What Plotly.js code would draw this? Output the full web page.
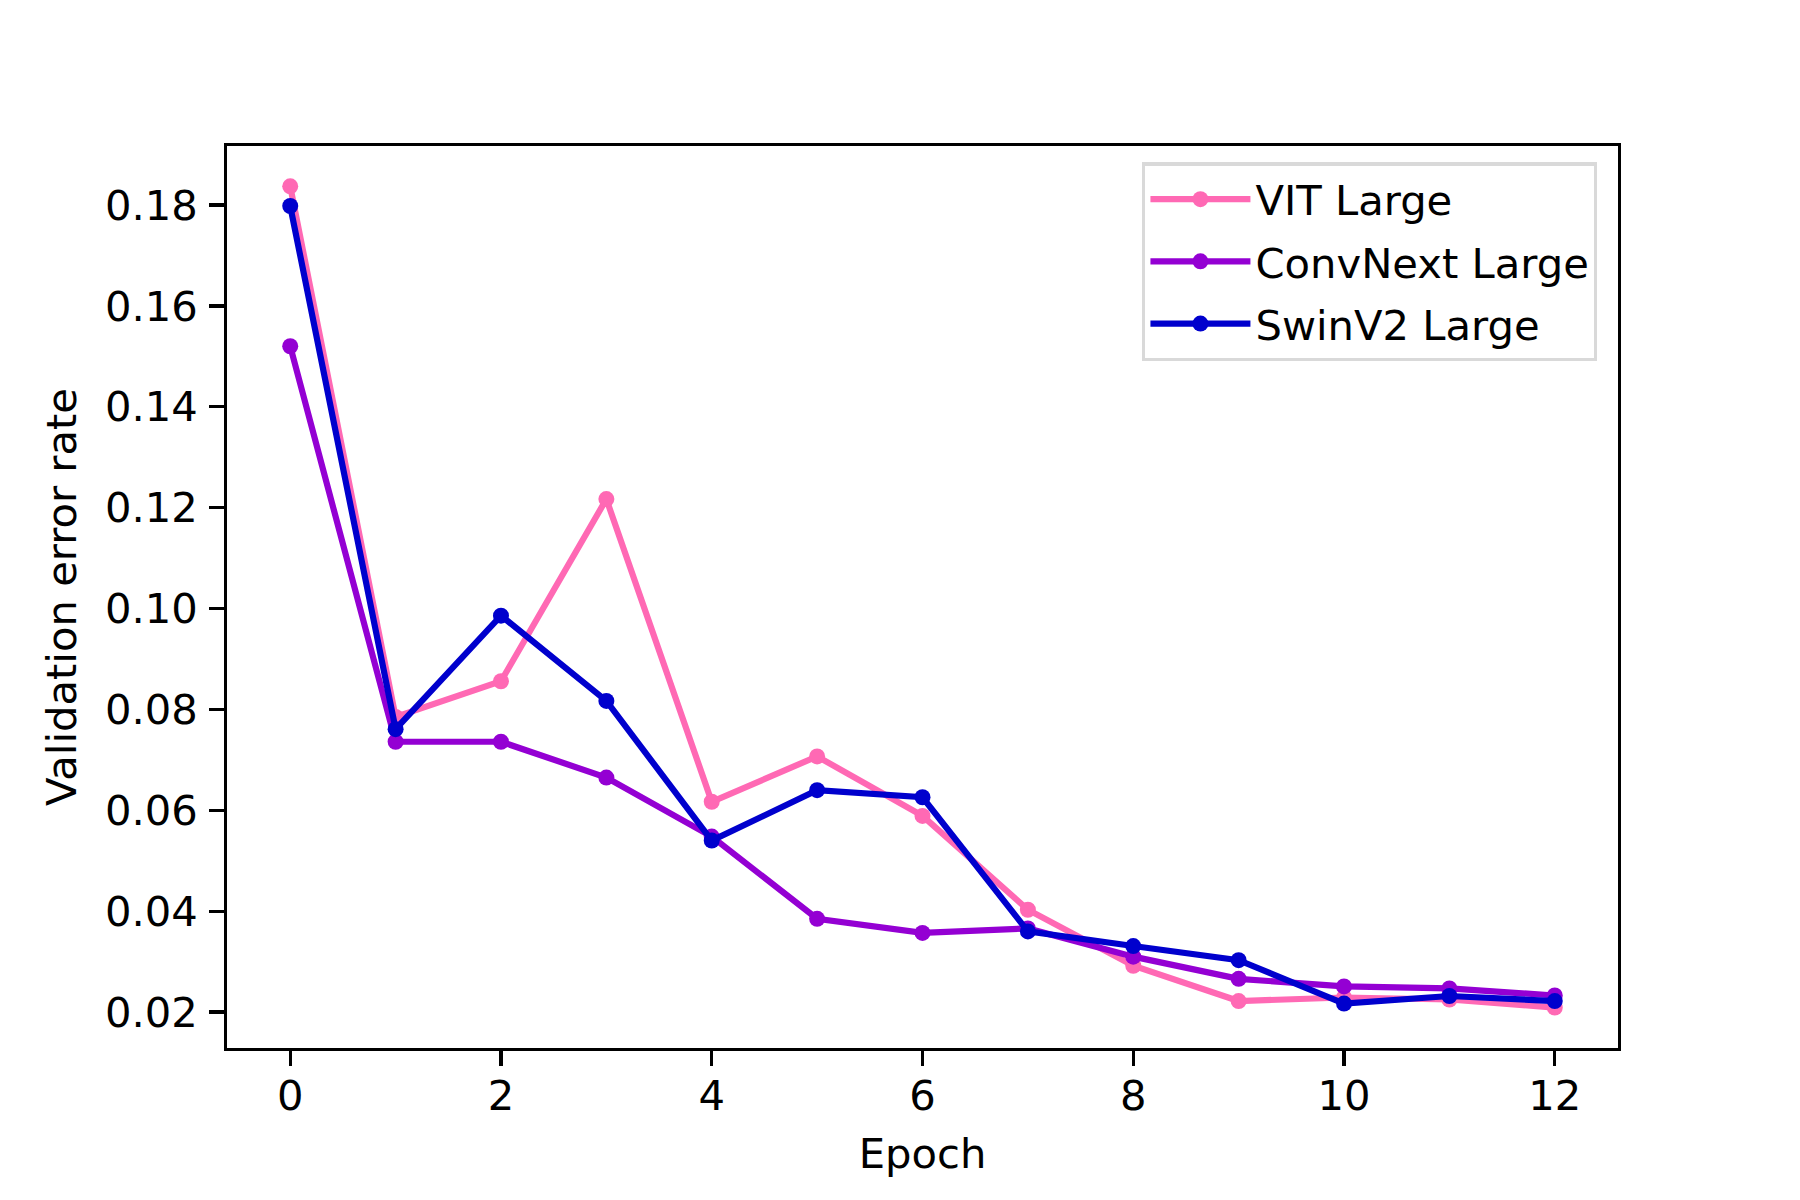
<!DOCTYPE html>
<html>
<head>
<meta charset="utf-8">
<script src="https://cdn.plot.ly/plotly-3.0.1.min.js"></script>
<style>
  body { margin: 0; background: white; }
</style>
</head>
<body>
<div id="chart" style="width:1800px;height:1200px;"></div>
<script>
// validation error per epoch
const epochs = [0, 1, 2, 3, 4, 5, 6, 7, 8, 9, 10, 11, 12];
const vitLarge = [0.1837, 0.0785, 0.0856, 0.1217, 0.0617, 0.0707, 0.0589, 0.0403, 0.0292, 0.0222, 0.0229, 0.0225, 0.0209];
const convNextLarge = [0.1520, 0.0736, 0.0736, 0.0665, 0.0548, 0.0385, 0.0357, 0.0366, 0.0310, 0.0266, 0.0251, 0.0247, 0.0233];
const swinV2Large = [0.1798, 0.0761, 0.0986, 0.0817, 0.0540, 0.0640, 0.0626, 0.0360, 0.0331, 0.0303, 0.0217, 0.0232, 0.0222];

const seriesNames = ['VIT Large', 'ConvNext Large', 'SwinV2 Large'];
const seriesColors = ['#ff69b4', '#9400d3', '#0000cd'];
const xTicks = [0, 2, 4, 6, 8, 10, 12];
const yTicks = [0.02, 0.04, 0.06, 0.08, 0.10, 0.12, 0.14, 0.16, 0.18];

const fontSize = 41.7;

function makeTrace(values, i) {
    return {
        type: 'scatter',
        mode: 'lines+markers',
        x: epochs,
        y: values,
        name: seriesNames[i],
        legendgroup: 'g' + i,
        line: { color: seriesColors[i], width: 6.2 },
        marker: { color: seriesColors[i], size: 16 },
        hoverinfo: 'none'
    };
}

const traces = [vitLarge, convNextLarge, swinV2Large].map(makeTrace);

const axisSettings = {
    showgrid: false,
    zeroline: false,
    showline: true,
    mirror: true,
    linecolor: 'black',
    linewidth: 3.3,
    ticks: 'outside',
    ticklen: 14.6,
    tickwidth: 3.3,
    tickcolor: 'black',
    tickfont: { family: 'DejaVu Sans', size: fontSize, color: 'black' }
};

const layout = {
    width: 1800,
    height: 1200,
    margin: { l: 227, r: 182, t: 146, b: 152 },
    paper_bgcolor: 'white',
    plot_bgcolor: 'white',
    font: { family: 'DejaVu Sans', size: fontSize, color: 'black' },
    xaxis: {
        ...axisSettings,
        range: [-0.6, 12.6],
        tickvals: xTicks,
        ticktext: xTicks.map(String),
        ticklabelstandoff: -6,
        title: { text: 'Epoch', font: { size: fontSize }, standoff: 21 }
    },
    yaxis: {
        ...axisSettings,
        range: [0.01289, 0.1917],
        tickvals: yTicks,
        ticktext: yTicks.map(v => v.toFixed(2)),
        ticklabelstandoff: 3,
        title: { text: 'Validation error rate', font: { size: fontSize }, standoff: 16 }
    },
    showlegend: true,
    legend: {
        x: 0.985,
        y: 0.982,
        xanchor: 'right',
        yanchor: 'top',
        bgcolor: 'white',
        bordercolor: '#d9d9d9',
        borderwidth: 3.3,
        traceorder: 'grouped',
        tracegroupgap: 5,
        itemwidth: 100,
        font: { family: 'DejaVu Sans', size: fontSize, color: 'black' }
    }
};

Plotly.newPlot('chart', traces, layout, { staticPlot: true });
</script>
</body>
</html>
